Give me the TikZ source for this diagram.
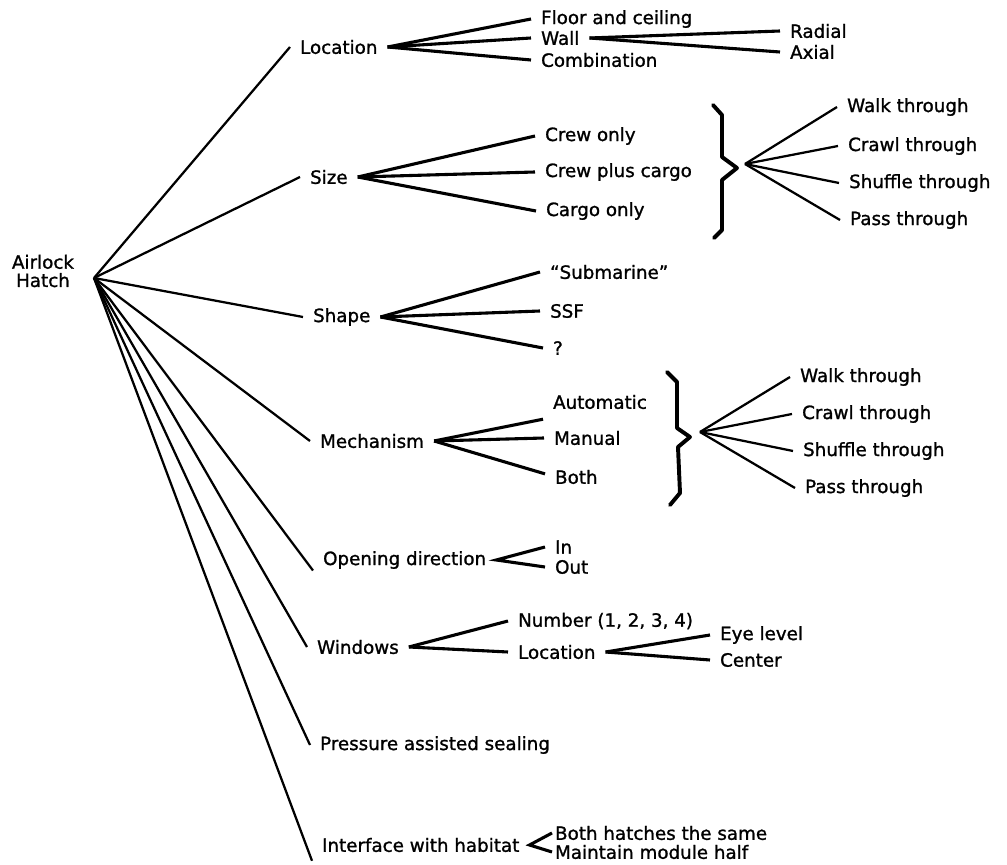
\documentclass[tikz,border=0pt]{standalone}
\usepackage{fontspec}
\setmainfont{DejaVu Sans}[BoldFont={DejaVu Sans}, BoldFeatures={FakeBold=1.2}]
\usetikzlibrary{calc}

\tikzset{
  lbl/.style={anchor=west, inner xsep=7pt, inner ysep=1pt, font=\fontsize{13}{13}\selectfont\bfseries},
  stem/.style={line width=1.6pt},
  fan/.style={line width=2.2pt},
  bracket/.style={line width=2.8pt, line join=round, line cap=round},
}

\begin{document}
\begin{tikzpicture}[x=0.025cm, y=-0.025cm]
  \useasboundingbox (0,0) rectangle (1007,865);

  \node[font=\fontsize{13}{13}\selectfont\bfseries, align=center, inner sep=0pt] (root) at (43,271) {Airlock\\Hatch};
  \coordinate (hub) at (94,278);

  \node[lbl] (loc)   at (290,47)  {Location};
  \node[lbl] (size)  at (300,177) {Size};
  \node[lbl] (shape) at (303,317) {Shape};
  \node[lbl] (mech)  at (310,441) {Mechanism};
  \node[lbl] (open)  at (313,560) {Opening direction};
  \node[lbl] (win)   at (307,647) {Windows};
  \node[lbl] (press) at (310,745) {Pressure assisted sealing};
  \node[lbl] (intf)  at (312,845) {Interface with habitat};

  \foreach \n in {loc,size,shape,mech,win,press}
    \draw[stem] (hub) -- (\n.west);
  \draw[stem] (hub) -- (open.south west);
  \draw[stem] (hub) -- ([yshift=-5pt]intf.south west);

  % location
  \node[lbl] (floor)  at (531,19)  {Floor and ceiling};
  \node[lbl] (wall)   at (531,38)  {Wall};
  \node[lbl] (comb)   at (531,60)  {Combination};
  \node[lbl] (radial) at (780,31)  {Radial};
  \node[lbl] (axial)  at (780,52)  {Axial};
  \foreach \n in {floor,wall,comb}
    \draw[fan] (loc.east) -- (\n.west);
  \draw[fan] (wall.east) -- (radial.west);
  \draw[fan] (wall.east) -- (axial.west);

  % size
  \node[lbl] (crewonly)  at (535,136) {Crew only};
  \node[lbl] (crewcargo) at (535,172) {Crew plus cargo};
  \node[lbl] (cargoonly) at (536,211) {Cargo only};
  \foreach \n in {crewonly,crewcargo,cargoonly}
    \draw[fan] (size.east) -- (\n.west);

  \draw[bracket] (713,105) -- (722,115) -- (722,157) -- (737,168) -- (722,180) -- (722,230) -- (714,238);
  \coordinate (braceA) at (745,164);
  \node[lbl] (walkA)  at (837,107) {Walk through};
  \node[lbl] (crawlA) at (838,146) {Crawl through};
  \node[lbl] (shufA)  at (839,183) {Shuffle through};
  \node[lbl] (passA)  at (840,220) {Pass through};
  \foreach \n in {walkA,crawlA,shufA,passA}
    \draw[stem] (braceA) -- (\n.west);

  % shape
  \node[lbl] (sub)   at (540,272) {“Submarine”};
  \node[lbl] (ssf)   at (540,311) {SSF};
  \node[lbl] (quest) at (543,348) {?};
  \foreach \n in {sub,ssf,quest}
    \draw[fan] (shape.east) -- (\n.west);

  % mechanism
  \node[lbl] (auto)   at (543,402) {Automatic};
  \node[lbl] (manual) at (544,438) {Manual};
  \node[lbl] (both)   at (545,477) {Both};
  \draw[fan] (mech.east) -- ([yshift=-6pt]auto.south west);
  \draw[fan] (mech.east) -- (manual.west);
  \draw[fan] (mech.east) -- ([yshift=-4pt]both.north west);

  \draw[bracket] (667,372) -- (677,382) -- (677,428) -- (690,437) -- (678,447) -- (680,493) -- (670,505);
  \coordinate (braceB) at (700,432);
  \node[lbl] (walkB)  at (790,377) {Walk through};
  \node[lbl] (crawlB) at (792,414) {Crawl through};
  \node[lbl] (shufB)  at (793,451) {Shuffle through};
  \node[lbl] (passB)  at (795,488) {Pass through};
  \foreach \n in {walkB,crawlB,shufB,passB}
    \draw[stem] (braceB) -- (\n.west);

  % opening direction
  \node[lbl] (in)  at (545,547) {In};
  \node[lbl] (out) at (545,567) {Out};
  \draw[fan] (in.west) -- (open.east) -- (out.west);

  % windows
  \node[lbl] (number) at (508,621) {Number (1, 2, 3, 4)};
  \node[lbl] (wloc)   at (508,652) {Location};
  \node[lbl] (eye)    at (710,635) {Eye level};
  \node[lbl] (center) at (710,660) {Center};
  \draw[fan] (win.east) -- (number.west);
  \draw[fan] (win.east) -- (wloc.west);
  \draw[fan] (wloc.east) -- (eye.west);
  \draw[fan] (wloc.east) -- (center.west);

  % interface
  \node[lbl, inner xsep=2pt] (same)   at (552,833) {Both hatches the same};
  \node[lbl, inner xsep=2pt] (module) at (552,852) {Maintain module half};
  \draw[fan] (same.west) -- (intf.east) -- (module.west);
\end{tikzpicture}
\end{document}
